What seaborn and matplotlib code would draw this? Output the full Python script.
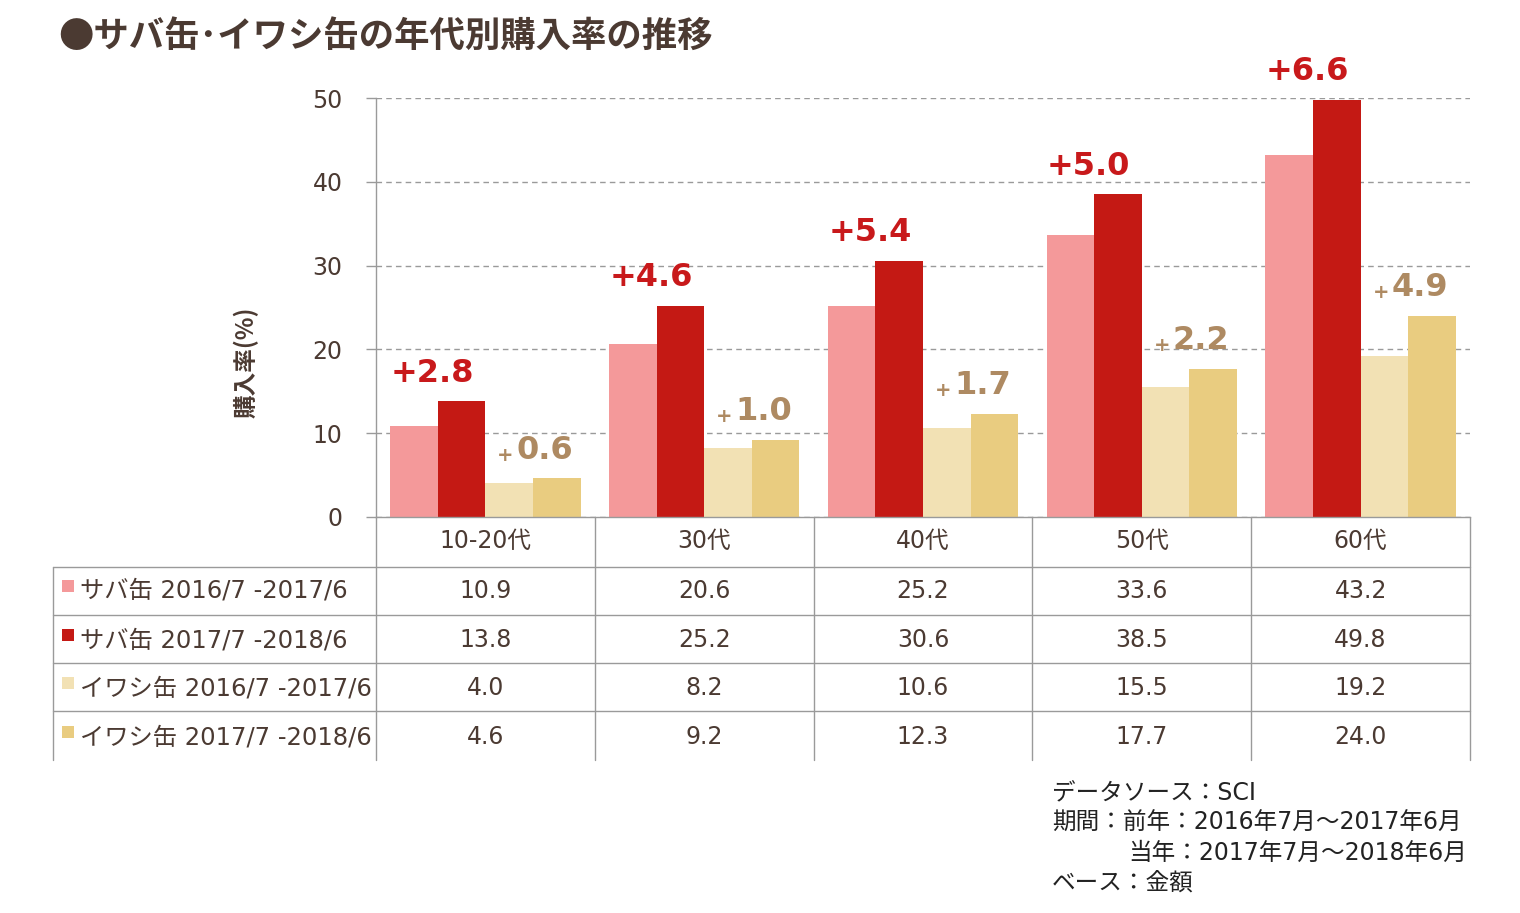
import numpy as np
import pandas as pd
import matplotlib
matplotlib.use("Agg")
from matplotlib import pyplot as plt
from matplotlib import transforms
from matplotlib.patches import Rectangle
import seaborn as sns

# data
ages = ["10-20代", "30代", "40代", "50代", "60代"]
series = ["サバ缶 2016/7 -2017/6", "サバ缶 2017/7 -2018/6",
          "イワシ缶 2016/7 -2017/6", "イワシ缶 2017/7 -2018/6"]
saba_prev = [10.9, 20.6, 25.2, 33.6, 43.2]
saba_curr = [13.8, 25.2, 30.6, 38.5, 49.8]
iwashi_prev = [4.0, 8.2, 10.6, 15.5, 19.2]
iwashi_curr = [4.6, 9.2, 12.3, 17.7, 24.0]
saba_diff = [2.8, 4.6, 5.4, 5.0, 6.6]
iwashi_diff = [0.6, 1.0, 1.7, 2.2, 4.9]
yticks = [0, 10, 20, 30, 40, 50]

colors = ["#F4999A", "#C41914", "#F2E1B4", "#E9CC80"]
text_col = "#4B3A32"
line_col = "#9A9A9A"
red_lab = "#C8191B"
tan_lab = "#AE8A62"

sns.set_style("white")
# Latin glyphs in DejaVu (Verdana-like), Japanese falls back to Noto CJK
plt.rcParams['font.family'] = ['DejaVu Sans', 'Noto Sans CJK JP']
cjk = ['Noto Sans CJK JP', 'DejaVu Sans']

values = [saba_prev, saba_curr, iwashi_prev, iwashi_curr]
records = [
    {"age": a, "series": s, "rate": v}
    for s, vals in zip(series, values)
    for a, v in zip(ages, vals)
]
df = pd.DataFrame(records)

fig = plt.figure(figsize=(15.2, 9.13), dpi=100)
ax = fig.add_axes([376 / 1520, (913 - 517) / 913, (1470 - 376) / 1520, (517 - 98) / 913])

bar_w = 0.87
sns.barplot(data=df, x="age", y="rate", hue="series", hue_order=series,
            order=ages, palette=colors, width=bar_w, saturation=1, gap=0,
            linewidth=0, legend=False, ax=ax)

ax.set_xlim(-0.5, len(ages) - 0.5)
ax.set_ylim(0, 50)
ax.set_yticks(yticks)
ax.set_axisbelow(True)
ax.yaxis.grid(True, linestyle=(0, (4, 3)), color=line_col, linewidth=1)
ax.xaxis.grid(False)
ax.set_xlabel("")
ax.set_ylabel("")
ax.tick_params(axis="y", left=True, length=7.2, width=1, color=line_col,
               pad=17, labelsize=17, labelcolor=text_col)
ax.tick_params(axis="x", length=0, labelbottom=False)
for side in ["top", "right"]:
    ax.spines[side].set_visible(False)
for side in ["left", "bottom"]:
    ax.spines[side].set_color(line_col)
    ax.spines[side].set_linewidth(1)

fig.text(246 / 1520, (913 - 362) / 913, "購入率(%)", rotation=90, ha="center", va="center",
         fontsize=17, fontweight="bold", color=text_col, family=cjk)

# increase labels
half = bar_w / 4
for i in range(len(ages)):
    ax.annotate(f"+{saba_diff[i]:.1f}", xy=(i - half, saba_curr[i]), xytext=(-4, 14),
                textcoords="offset points", ha="center", va="baseline",
                fontsize=23, fontweight="bold", color=red_lab)
    num = ax.annotate(f"{iwashi_diff[i]:.1f}", xy=(i + half, iwashi_curr[i]), xytext=(8.5, 14),
                      textcoords="offset points", ha="center", va="baseline",
                      fontsize=23, fontweight="bold", color=tan_lab)
    ax.annotate("+", xy=(0, 0.35), xycoords=num, xytext=(-2, 0), textcoords="offset points",
                ha="right", va="center", fontsize=14, fontweight="bold", color=tan_lab)

# data table under the axis
H = 517 - 98
W = 1470 - 376


def ya(py):
    return (517 - py) / H


def xa(px):
    return (px - 376) / W


blend = transforms.blended_transform_factory(ax.transData, ax.transAxes)
row_lines = [567, 615, 663, 711]
row_bottom = 760
row_centers = [591, 640, 688, 737]

kw = dict(transform=ax.transAxes, clip_on=False, color=line_col, linewidth=1)
for py in row_lines:
    ax.plot([xa(53), 1], [ya(py), ya(py)], **kw)
for k in range(1, len(ages) + 1):
    ax.plot([k / len(ages)] * 2, [0, ya(row_bottom)], **kw)
ax.plot([0, 0], [0, ya(row_bottom)], **kw)
ax.plot([xa(53), xa(53)], [ya(567), ya(row_bottom)], **kw)

for i, a in enumerate(ages):
    ax.text(i, ya(541), a, transform=blend, ha="center", va="center",
            fontsize=17, color=text_col)

for r, (s, vals) in enumerate(zip(series, values)):
    cy = row_centers[r]
    for i, v in enumerate(vals):
        ax.text(i, ya(cy), f"{v:.1f}", transform=blend, ha="center", va="center",
                fontsize=17, color=text_col)
    fig.text(80 / 1520, (913 - cy) / 913, s, ha="left", va="center",
             fontsize=17.5, color=text_col)
    fig.patches.append(Rectangle((62 / 1520, (913 - cy - 1) / 913), 12 / 1520, 12 / 913,
                                 transform=fig.transFigure, color=colors[r], lw=0))

# title
fig.text(58 / 1520, (913 - 36) / 913, "●サバ缶･イワシ缶の年代別購入率の推移",
         ha="left", va="center", fontsize=25.5, fontweight="bold", color=text_col, family=cjk)

# source notes
notes_x = 1052 / 1520
fig.text(notes_x, (913 - 793) / 913, "データソース：SCI", ha="left", va="center",
         fontsize=17, color="#222222")
fig.text(notes_x, (913 - 823) / 913, "期間：前年：2016年7月～2017年6月", ha="left", va="center",
         fontsize=17, color="#222222")
fig.text(1128 / 1520, (913 - 853) / 913, "当年：2017年7月～2018年6月", ha="left", va="center",
         fontsize=17, color="#222222")
fig.text(notes_x, (913 - 883) / 913, "ベース：金額", ha="left", va="center",
         fontsize=17, color="#222222")

fig.savefig("out.png", dpi=100)
plt.close("all")
